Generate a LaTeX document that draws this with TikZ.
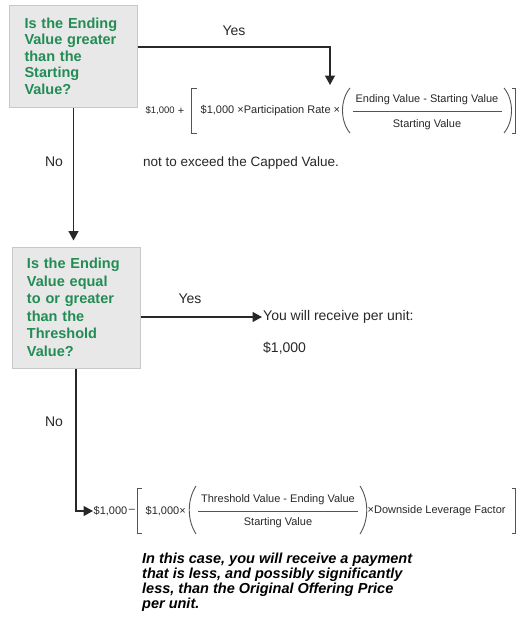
\documentclass[tikz,border=0pt]{standalone}
\usepackage{fontspec}
\setmainfont{Liberation Sans}
\usetikzlibrary{arrows.meta}

\definecolor{qgreen}{RGB}{34,140,84}
\definecolor{qfill}{RGB}{232,232,232}
\definecolor{qline}{RGB}{200,200,200}
\definecolor{ink}{RGB}{40,40,40}

\begin{document}
\begin{tikzpicture}[x=1pt, y=-1pt,
    question/.style={draw=qline, fill=qfill, line width=1pt, text=qgreen, align=left,
        text width=98pt, inner xsep=15pt, font=\fontsize{14.5}{16.5}\selectfont\bfseries},
    flow/.style={ink, line width=1.4pt, -{Triangle[length=9.5pt, width=10pt]}},
    label/.style={inner sep=1pt, text=ink, font=\fontsize{14}{16}\selectfont},
    term/.style={inner sep=0.5pt, text=ink, font=\fontsize{11}{13}\selectfont},
    delim/.style={ink!80, line width=0.9pt}]

    % Set page size and background
    \fill[white] (0,0) rectangle (516,621);
    \useasboundingbox (0,0) rectangle (516,621);

    % Question boxes
    \node[question, minimum height=102pt] (q1) at (73.5,56)
        {Is the Ending\\Value greater\\than the\\Starting\\Value?};
    \node[question, minimum height=121pt, font=\fontsize{14.5}{17.5}\selectfont\bfseries] (q2) at (76,307.5)
        {Is the Ending\\Value equal\\to or greater\\than the\\Threshold\\Value?};

    % First formula
    \node[term, anchor=west, font=\fontsize{9.5}{12}\selectfont] (f1a) at (145,111) {\$1,000};
    \node[term] (f1p) at (181,111) {+};
    \draw[delim] (197,88) -- (191,88) -- (191,133) -- (197,133); % [
    \node[term, anchor=west] (f1b) at (200,111) {\$1,000 ×Participation Rate ×};
    \draw[delim] (350,88) .. controls (340,100) and (340,121) .. (350,133); % (
    \node[term] (f1n) at (427,100) {Ending Value - Starting Value};
    \draw[delim] (353,111) -- (502,111);
    \node[term] (f1d) at (427,125) {Starting Value};
    \draw[delim] (504,88) .. controls (514,100) and (514,121) .. (504,133); % )
    \draw[delim] (512,88) -- (515.5,88) -- (515.5,133) -- (512,133); % ]
    \coordinate (f1top) at (330,85);

    % Yes / No labels and plain texts
    \node[label] (yes1) at (234,31) {Yes};
    \node[label] (no1) at (54,162) {No};
    \node[label, anchor=west, font=\fontsize{13.5}{16}\selectfont] (cap) at (142,163)
        {not to exceed the Capped Value.};
    \node[label] (yes2) at (190,299) {Yes};
    \node[label, anchor=west] (you) at (262,317) {You will receive per unit:};
    \node[label, anchor=west] (par) at (262,348) {\$1,000};
    \node[label] (no2) at (54,422) {No};

    % Second formula
    \node[term, anchor=west] (f2a) at (93,511) {\$1,000};
    \node[term] (f2m) at (132,511) {–};
    \draw[delim] (142,488) -- (137,488) -- (137,533) -- (142,533); % [
    \node[term, anchor=west] (f2b) at (145,511) {\$1,000×};
    \draw[delim] (196,486) .. controls (187,500) and (187,520) .. (196,534); % (
    \node[term] (f2n) at (278,500) {Threshold Value - Ending Value};
    \draw[delim] (198,511) -- (358,511);
    \node[term] (f2d) at (278,523) {Starting Value};
    \draw[delim] (360,486) .. controls (369,500) and (369,520) .. (360,534); % )
    \node[term, anchor=west] (f2c) at (367,511) {×Downside Leverage Factor};
    \draw[delim] (512,488) -- (515.5,488) -- (515.5,533) -- (512,533); % ]

    % Closing note
    \node[anchor=north west, align=left, inner sep=0pt, text=black,
        font=\fontsize{14.5}{15}\selectfont\bfseries\itshape] (note) at (142,553)
        {In this case, you will receive a payment\\that is less, and possibly significantly\\less, than the Original Offering Price\\per unit.};

    % Connectors
    \draw[flow] ([yshift=9pt]q1.east) -| (f1top);
    \draw[flow, shorten >=6pt] (q1.south) -- (q1.south |- q2.north);
    \draw[flow] ([yshift=-9.5pt]q2.east) -- (you.west);
    \draw[flow] (q2.south) |- (f2a.west);
\end{tikzpicture}
\end{document}
